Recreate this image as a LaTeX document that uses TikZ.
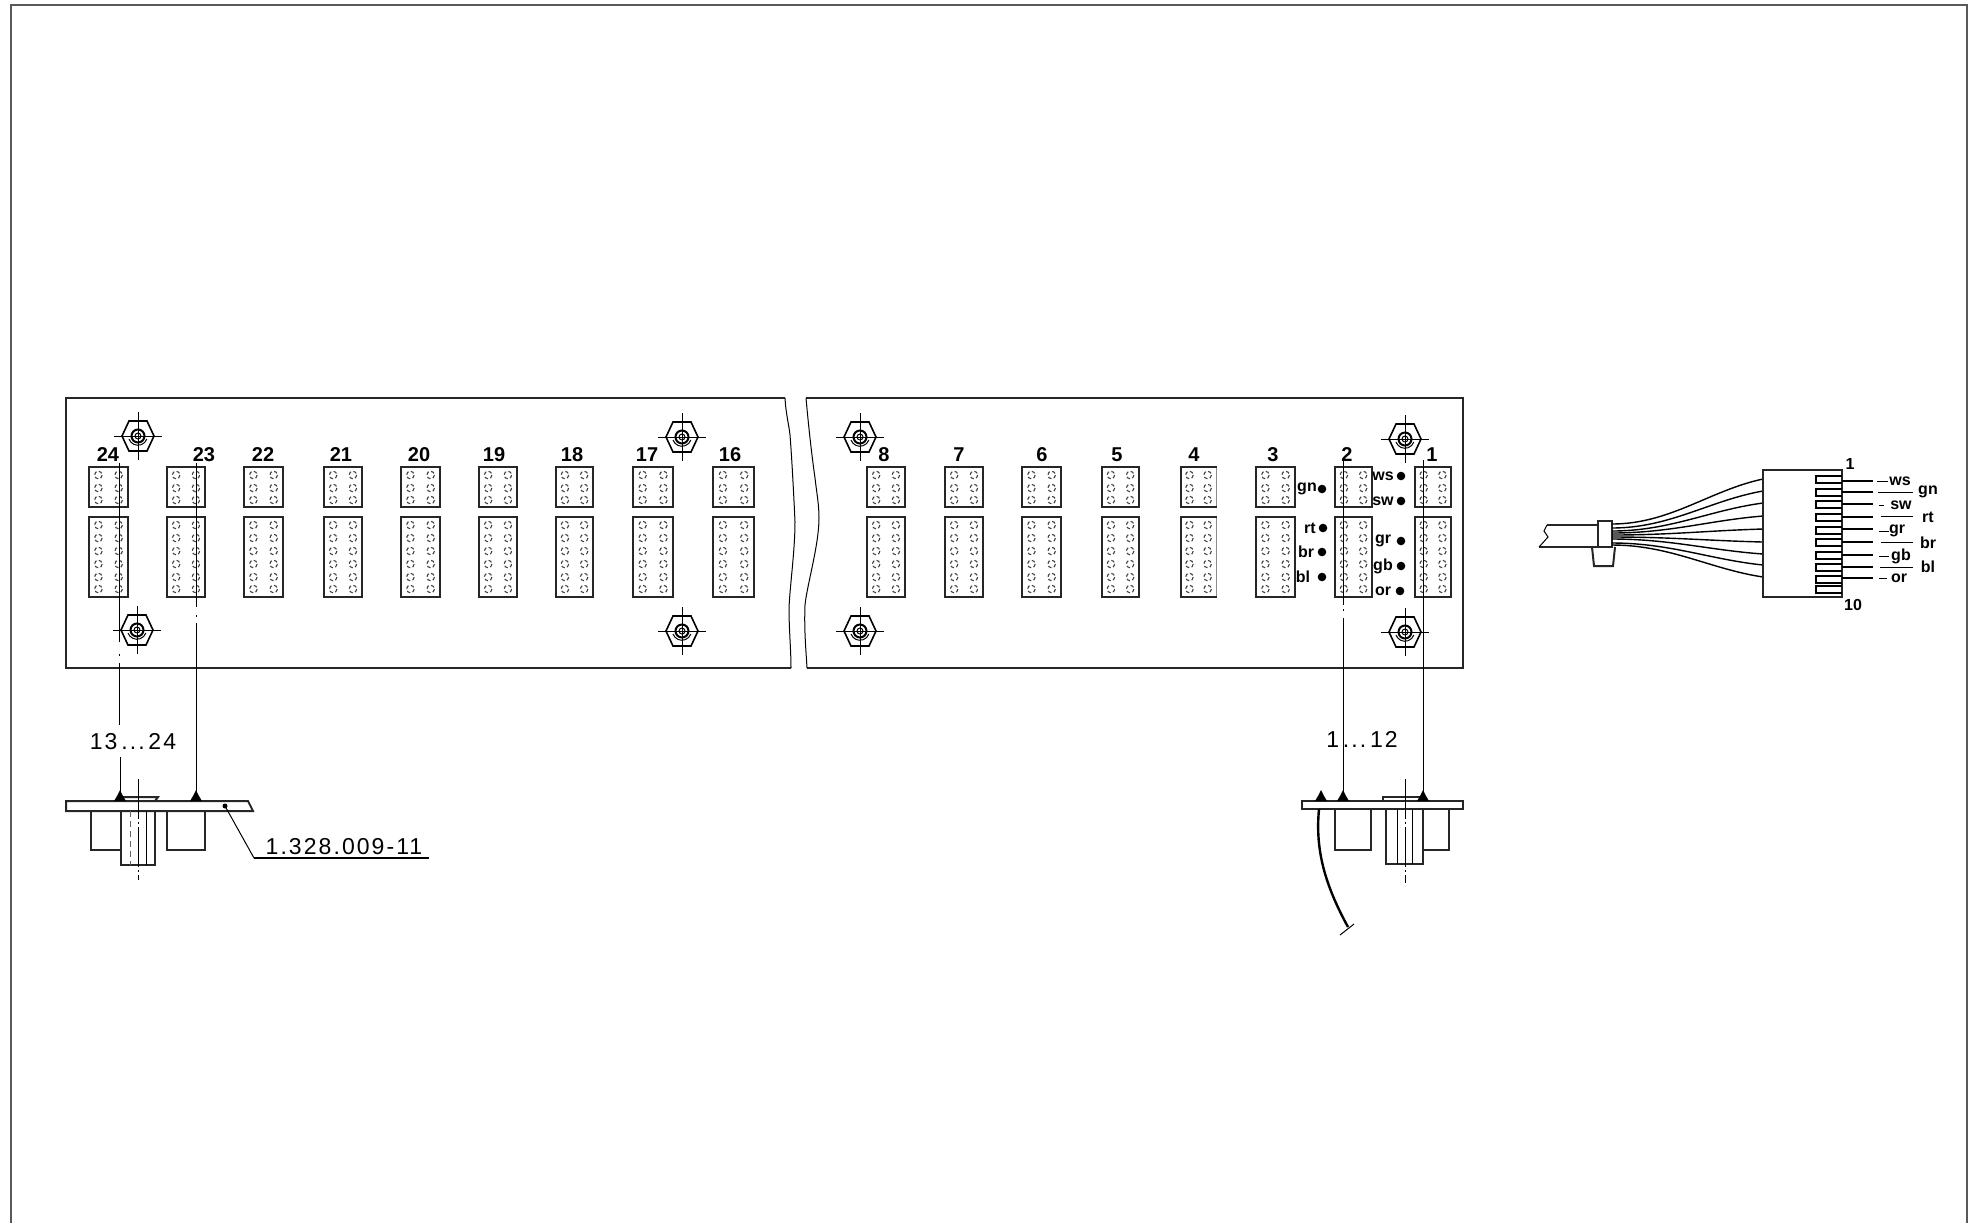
\documentclass[tikz,border=0pt]{standalone}
\usepackage{fontspec}
\setmainfont{Liberation Sans}
\newfontfamily\widefont[LetterSpace=9]{Liberation Sans}
\tikzset{
	outline/.style={line width=1pt,black!85},
	thinline/.style={line width=0.5pt,black},
	hole/.style={line width=0.55pt,black!75,dash pattern=on 1.8pt off 1.2pt},
	centerline/.style={line width=0.4pt,black,dash pattern=on 20pt off 1.5pt on 1pt off 1.5pt},
	numlabel/.style={font=\bfseries\fontsize{10}{11}\selectfont,inner sep=0pt},
	colorlabel/.style={font=\fontsize{8}{9}\selectfont\bfseries,inner sep=0pt},
	biglabel/.style={font=\widefont\fontsize{11.5}{13}\selectfont,inner sep=0pt},
	nut/.pic={
		\draw[line width=0.8pt] (-16,0) -- (-9,-15) -- (9,-15) -- (16,0) -- (9,15) -- (-9,15) -- cycle;
		\draw[thinline] (-24,0) -- (24,0) (0,-24) -- (0,24);
		\draw[line width=1pt] (0,0) circle (6.5);
		\draw[thinline] (0,0) circle (3);
		\draw[thinline] (-9,3) arc (160:20:9.5);
	},
	weld/.pic={
		\fill (-6,0) -- (-3,-5) -- (0,-11) -- (3,-5) -- (6,0) -- cycle;
	},
}
\begin{document}
\begin{tikzpicture}[x=0.5pt,y=-0.5pt]
	\useasboundingbox (0,0) rectangle (1971,1223);
	% frame
	\draw[line width=1pt,black!65] (11,1223) -- (11,5) -- (1967,5) -- (1967,1223);
	% panel, both halves
	\draw[outline] (785,398) -- (66,398) -- (66,668) -- (791,668);
	\draw[thinline] (785,398) .. controls (786,415) and (789,425) .. (790,435) .. controls (792,460) and (794,500) .. (795,522) .. controls (795,550) and (790,585) .. (789,608) .. controls (789,630) and (791,650) .. (791,668);
	\draw[outline] (806,398) -- (1463,398) -- (1463,668) -- (807,668);
	\draw[thinline] (806,398) .. controls (808,420) and (811,450) .. (815,478) .. controls (817,495) and (819,505) .. (819,518) .. controls (819,545) and (807,585) .. (805,605) .. controls (804,630) and (806,650) .. (807,668);
	% connector blocks
	\foreach \xa/\xb/\lx/\n in {89/128/108/24,167/205/204/23,244/283/263/22,324/362/341/21,401/440/419/20,479/517/494/19,556/593/572/18,633/673/647/17,713/754/730/16,867/905/884/8,945/983/959/7,1022/1061/1042/6,1102/1139/1117/5,1181/1216/1194/4,1256/1295/1273/3,1335/1372/1347/2,1415/1451/1432/1}{
		\draw[outline] (\xa,467) rectangle (\xb,507);
		\draw[outline] (\xa,517) rectangle (\xb,597);
		\node[numlabel] (num\n) at (\lx,455) {\n};
		\foreach \c in {0.24,0.76}{
			\foreach \y in {475,488,500,525,538,551,564,577,589}
				\draw[hole] ({\xa+\c*(\xb-\xa)},\y) circle (3.8);
		}
	}
	% right side of block 4 is faint
	\draw[white,line width=1.2pt] (1216,468) -- (1216,506) (1216,518) -- (1216,596);
	\draw[line width=0.4pt,black!45] (1216,468) -- (1216,506) (1216,518) -- (1216,596);
	% mounting nuts
	\foreach \x/\y in {138/436,137/630,682/437,682/631,860/437,860/631,1405/439,1405/632}
		\pic at (\x,\y) {nut};
	% colour codes on the panel
	\foreach \tx/\dx/\y/\t in {1307/1322/489/gn,1310/1323/528/rt,1306/1322/552/br,1303/1322/577/bl,1383/1401/476/ws,1383/1401/501/sw,1383/1401/541/gr,1383/1401/566/gb,1383/1400/591/or}{
		\node[colorlabel] (code\t) at (\tx,\y) {\t};
		\fill (\dx,\y) circle (4.3);
	}
	% section left
	\draw[outline] (66,801) -- (248,801) -- (253,811) -- (66,811) -- cycle;
	\draw[outline] (122,801) -- (122,797) -- (158,797) -- (155,801);
	\draw[outline] (91,811) -- (91,850) -- (121,850);
	\draw[outline] (121,811) -- (121,865) -- (155,865) -- (155,811);
	\draw[thinline] (146,811) -- (146,865);
	\draw[thinline,densely dashed,black!60] (130,811) -- (130,865);
	\draw[outline] (167,811) -- (167,850) -- (205,850) -- (205,811);
	\draw[centerline] (138,779) -- (138,880);
	\pic at (120,801) {weld};
	\pic at (196,801) {weld};
	\node[biglabel] (range13) at (133,742) {13\,...\,24};
	% part number
	\coordinate (partdot) at (225,806);
	\coordinate (partknee) at (254,858);
	\coordinate (partend) at (429,858);
	\fill (partdot) circle (2.5);
	\draw[thinline] (partdot) -- (partknee);
	\draw[line width=0.7pt] (partknee) -- (partend);
	\node[biglabel] (partno) at (344,847) {1.328.009-11};
	% section right
	\draw[outline] (1302,801) rectangle (1463,809);
	\draw[outline] (1383,801) -- (1383,797) -- (1423,797) -- (1423,801);
	\draw[outline] (1335,809) -- (1335,850) -- (1371,850) -- (1371,809);
	\draw[outline] (1386,809) -- (1386,864) -- (1423,864) -- (1423,809);
	\draw[outline] (1423,850) -- (1449,850) -- (1449,809);
	\draw[thinline] (1397,809) -- (1397,864) (1412,809) -- (1412,864);
	\draw[centerline] (1405,779) -- (1405,883);
	\pic at (1321,801) {weld};
	\pic at (1343,801) {weld};
	\pic at (1423,801) {weld};
	\node[biglabel] (range1) at (1362,739) {1\,...\,12};
	\draw[line width=1.2pt] (1319,809) .. controls (1315,850) and (1325,885) .. (1348,927);
	\draw[thinline] (1340,935) -- (1354,924);
	% projection lines
	\draw[thinline] (119,463) -- (119,642) (119,654) -- (119,656) (119,663) -- (119,725) (120,757) -- (120,800);
	\draw[thinline] (196,463) -- (196,607) (196,615) -- (196,617) (196,623) -- (196,800);
	\draw[thinline] (1343,458) -- (1343,605) (1343,609) -- (1343,611) (1343,618) -- (1343,800);
	\draw[thinline] (1423,460) -- (1423,800);
	% cable with plug
	\draw[outline] (1547,525) -- (1598,525) (1539,547) -- (1598,547);
	\draw[thinline] (1547,525) -- (1544,531) -- (1548,537) -- (1539,547);
	\draw[outline] (1598,521) rectangle (1612,547);
	\draw[outline] (1592,547) -- (1594,566) -- (1613,566) -- (1615,547);
	\foreach \ya/\yb in {524/479,528/491,531/503,533/516,535/529,537/542,539/554,543/565,545/577}
		\draw[line width=0.7pt] (1612,\ya) .. controls (1670,\ya) and (1710,{\yb+(\ya-\yb)*0.25}) .. (1763,\yb);
	\draw[outline] (1763,470) rectangle (1842,597);
	\foreach \y in {476,489,501,514,527,539,552,564,576,586}
		\draw[line width=0.7pt] (1842,\y) -- (1816,\y) -- (1816,{\y+7}) -- (1842,{\y+7});
	\foreach \y in {481,492,504,517,529,542,555,567,578}
		\draw[line width=0.8pt] (1842,\y) -- (1873,\y);
	\node[colorlabel] (plugtop) at (1850,464) {1};
	\node[colorlabel] (plugend) at (1853,605) {10};
	\foreach \xa/\xb/\tx/\y/\t in {1877/1888/1900/481/ws,1879/1884/1901/505/sw,1879/1889/1897/531/gr,1879/1889/1901/556/gb,1879/1887/1899/578/or}{
		\node[colorlabel] (wire\t) at (\tx,\y) {\t};
		\draw[thinline] (\xa,\y) -- (\xb,\y);
	}
	\foreach \xa/\y/\ty/\t in {1878/492/492/gn,1881/516/517/rt,1881/542/543/br,1880/567/567/bl}{
		\node[colorlabel] (wire\t) at (1928,\ty) {\t};
		\draw[thinline] (\xa,\y) -- (1913,\y);
	}
\end{tikzpicture}
\end{document}
